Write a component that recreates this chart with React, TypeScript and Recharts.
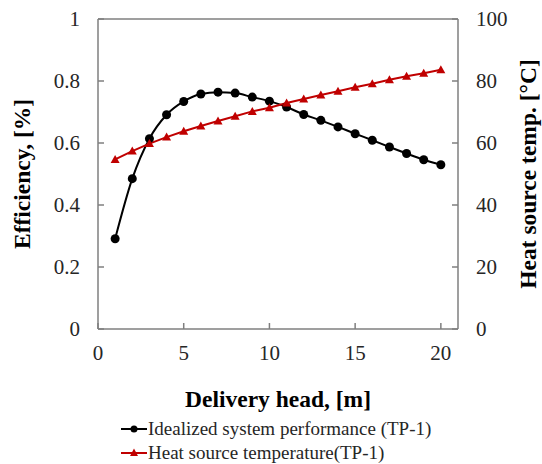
import React from "react";
import { LineChart, Line, XAxis, YAxis, Legend, ReferenceLine } from "recharts";

const heads = [1, 2, 3, 4, 5, 6, 7, 8, 9, 10, 11, 12, 13, 14, 15, 16, 17, 18, 19, 20];
const efficiency = [0.291, 0.485, 0.614, 0.691, 0.734, 0.758, 0.764, 0.761, 0.748, 0.735,
  0.716, 0.692, 0.673, 0.652, 0.63, 0.609, 0.587, 0.566, 0.546, 0.53];
const heatTemp = [54.7, 57.4, 59.8, 61.9, 63.8, 65.5, 67.1, 68.6, 70.2, 71.4,
  72.9, 74.2, 75.5, 76.7, 78.0, 79.1, 80.4, 81.5, 82.5, 83.6];
const xTicks = [0, 5, 10, 15, 20];
const effTicks = [0, 0.2, 0.4, 0.6, 0.8, 1];
const tempTicks = [0, 20, 40, 60, 80, 100];

const data = heads.map((h, i) => ({ head: h, eff: efficiency[i], temp: heatTemp[i] }));

const AXIS = "#7f7f7f";
const RED = "#c00000";
const FONT = "'Liberation Serif', 'Times New Roman', serif";
const tickStyle = { fontFamily: FONT, fontSize: 21, fill: "#262626" };
const titleStyle = { fontFamily: FONT, fontSize: 23.5, fontWeight: 700, fill: "#000" };

const Triangle = (props: any) => {
  const { cx, cy, index } = props;
  if (cx == null || cy == null) return null;
  return <path key={`t-${index}`} d={`M${cx},${cy - 4.5} L${cx + 4.5},${cy + 3.5} L${cx - 4.5},${cy + 3.5} Z`} fill={RED} />;
};

const LegendBox = () => {
  const row = (label: string, color: string, marker: React.ReactNode) => (
    <div style={{ display: "flex", alignItems: "center", height: 24 }}>
      <svg width={26} height={14} style={{ marginRight: 1 }}>
        <line x1={0} y1={7} x2={26} y2={7} stroke={color} strokeWidth={2} />
        {marker}
      </svg>
      <span style={{ fontFamily: FONT, fontSize: 19, color: "#262626" }}>{label}</span>
    </div>
  );
  return (
    <div style={{ height: 60, paddingLeft: 121, paddingTop: 13, boxSizing: "border-box", textAlign: "left" }}>
      {row("Idealized system performance (TP-1)", "#000", <circle cx={13} cy={7} r={3.5} fill="#000" />)}
      {row("Heat source temperature(TP-1)", RED, <path d="M13,2.5 L17,10 L9,10 Z" fill={RED} />)}
    </div>
  );
};

export default function App() {
  return (
    <div style={{ position: "absolute", left: 0, top: 0, background: "#fff" }}>
      <LineChart width={542} height={464} data={data} margin={{ top: 19, right: 0, bottom: 0, left: 0 }}>
        <XAxis
          dataKey="head"
          type="number"
          domain={[0, 21]}
          ticks={xTicks}
          allowDataOverflow
          stroke={AXIS}
          strokeWidth={1.5}
          tickSize={-6}
          tickMargin={22}
          tick={tickStyle}
          height={75}
          label={{ value: "Delivery head, [m]", position: "center", dy: 32, style: titleStyle }}
        />
        <YAxis
          yAxisId="left"
          domain={[0, 1]}
          ticks={effTicks}
          stroke={AXIS}
          strokeWidth={1.5}
          tickSize={-6}
          tickMargin={24}
          tick={tickStyle}
          width={98}
          tickFormatter={(v: number) => String(v)}
          label={{ value: "Efficiency, [%]", angle: -90, position: "center", dx: -27, style: titleStyle }}
        />
        <YAxis
          yAxisId="right"
          orientation="right"
          domain={[0, 100]}
          ticks={tempTicks}
          stroke={AXIS}
          strokeWidth={1.5}
          tickSize={-6}
          tickMargin={24}
          tick={tickStyle}
          width={84}
          label={{ value: "Heat source temp. [°C]", angle: -90, position: "center", dx: 28, style: titleStyle }}
        />
        <ReferenceLine yAxisId="left" y={1} stroke={AXIS} strokeWidth={1.5} />
        <Legend verticalAlign="bottom" content={<LegendBox />} wrapperStyle={{ left: 0, width: 542 }} />
        <Line
          yAxisId="left"
          type="monotone"
          dataKey="eff"
          stroke="#000"
          strokeWidth={2}
          dot={{ r: 4.5, fill: "#000", stroke: "#000", strokeWidth: 0 }}
          isAnimationActive={false}
        />
        <Line
          yAxisId="right"
          type="linear"
          dataKey="temp"
          stroke={RED}
          strokeWidth={2}
          dot={<Triangle />}
          isAnimationActive={false}
        />
      </LineChart>
    </div>
  );
}
